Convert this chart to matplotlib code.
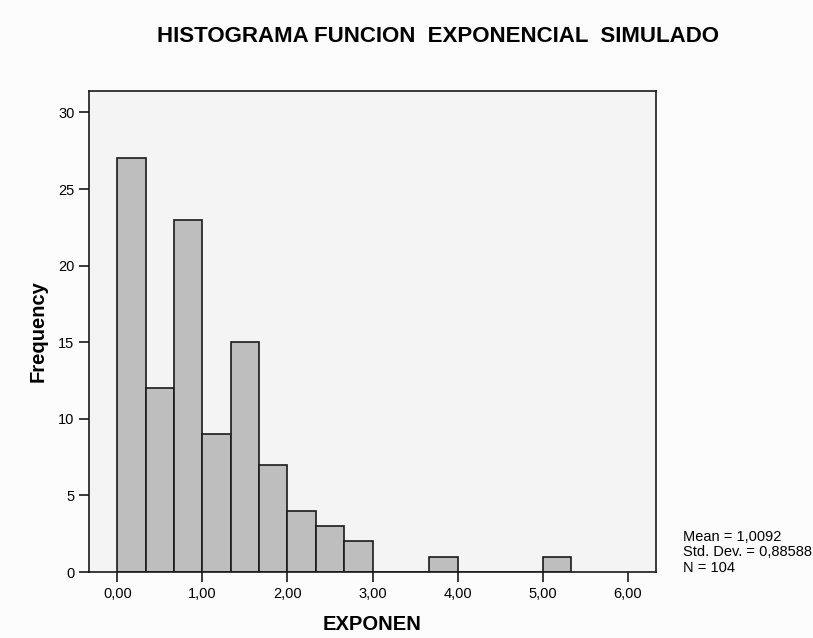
import matplotlib
matplotlib.use('Agg')
import matplotlib.pyplot as plt
import numpy as np

plt.rcParams['font.family'] = ['Liberation Sans', 'DejaVu Sans']

# histogram of simulated exponential values, bin width 1/3
bin_width = 1 / 3
counts = [27, 12, 23, 9, 15, 7, 4, 3, 2, 0, 0, 1, 0, 0, 0, 1]
x_ticks = [0, 1, 2, 3, 4, 5, 6]
x_tick_labels = ['0,00', '1,00', '2,00', '3,00', '4,00', '5,00', '6,00']
y_ticks = [0, 5, 10, 15, 20, 25, 30]
stats_lines = ['Mean = 1,0092', 'Std. Dev. = 0,88588', 'N = 104']

W, H = 813, 638
fig = plt.figure(figsize=(W / 100, H / 100), dpi=100, facecolor='#fcfcfc')
ax = fig.add_axes([89 / W, 1 - 572 / H, (656 - 89) / W, (572 - 91) / H])
ax.set_facecolor('#f4f4f4')

left_edges = np.arange(len(counts)) * bin_width
ax.bar(left_edges, counts, width=bin_width, align='edge',
       color='#bebebe', edgecolor='#1a1a1a', linewidth=1.2)

ax.set_xlim(-1 / 3, 6 + 1 / 3)
ax.set_ylim(0, 31.4)
ax.set_xticks(x_ticks)
ax.set_xticklabels(x_tick_labels)
ax.set_yticks(y_ticks)
ax.tick_params(axis='both', direction='out', length=7.5, width=1.2,
               labelsize=10.5, color='#1a1a1a', pad=3)
for s in ax.spines.values():
    s.set_linewidth(1.2)
    s.set_color('#1a1a1a')

# axis titles and chart title
fig.text(372 / W, 1 - 624 / H, 'EXPONEN', ha='center', va='center',
         fontsize=14.5, fontweight='bold')
fig.text(38 / W, 1 - 331 / H, 'Frequency', ha='center', va='center',
         rotation=90, fontsize=14.5, fontweight='bold')
fig.text(438 / W, 1 - 36 / H, 'HISTOGRAMA FUNCION  EXPONENCIAL  SIMULADO',
         ha='center', va='center', fontsize=16, fontweight='bold')
fig.text(683 / W, 1 - 575 / H, '\n'.join(stats_lines), ha='left', va='bottom',
         fontsize=10.5, linespacing=1.15)

fig.savefig('out.png', dpi=100, facecolor=fig.get_facecolor())
